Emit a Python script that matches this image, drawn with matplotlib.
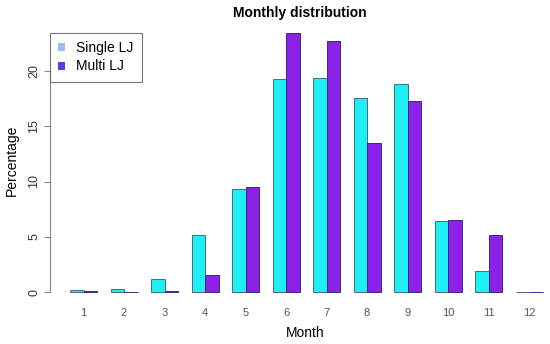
import numpy as np
import matplotlib.pyplot as plt
from matplotlib.patches import Patch

plt.rcParams['font.family'] = ['Liberation Sans', 'DejaVu Sans']

months = ["1", "2", "3", "4", "5", "6", "7", "8", "9", "10", "11", "12"]
single_lj = [0.2, 0.3, 1.2, 5.2, 9.3, 19.3, 19.4, 17.6, 18.8, 6.45, 1.9, 0.0]
multi_lj = [0.05, 0.0, 0.1, 1.5, 9.5, 23.4, 22.7, 13.5, 17.3, 6.55, 5.2, 0.0]

W, H = 550, 344
fig = plt.figure(figsize=(W / 100, H / 100), dpi=100)
# axes in pixel coords: left 50, right 550, top 20, bottom 300
ax = fig.add_axes([50 / W, 1 - 300 / H, 500 / W, 280 / H])

# R style beside barplot: each group = space 1 + 2 bars of width 1
group = np.arange(len(months))
x_single = 1.5 + 3 * group
x_multi = 2.5 + 3 * group

ax.bar(x_single, single_lj, width=1.0, color="#1EEFF5", edgecolor="#4a6a80", linewidth=0.7)
ax.bar(x_multi, multi_lj, width=1.0, color="#8C22E8", edgecolor="#3a2a80", linewidth=0.7)

# pixel mapping: unit 0 -> 56.5 px, 13.5 px per unit
ax.set_xlim((50 - 56.5) / 13.5, (550 - 56.5) / 13.5)
# y: 0 at 292 px, 11.05 px per unit
ax.set_ylim(-(300 - 292) / 11.05, (292 - 20) / 11.05)

for s in ["top", "right", "bottom"]:
    ax.spines[s].set_visible(False)
ax.spines["left"].set_bounds(0, 20)
ax.spines["left"].set_color("#888888")
ax.spines["left"].set_linewidth(0.8)

ax.set_yticks([0, 5, 10, 15, 20])
ax.set_yticklabels(["0", "5", "10", "15", "20"], rotation=90, va="center")
ax.tick_params(axis="y", length=4, color="#888888", labelsize=9, pad=3, labelcolor="#333333")

ax.set_xticks(2 + 3 * group)
ax.set_xticklabels(months)
ax.tick_params(axis="x", length=0, labelsize=8, pad=6, labelcolor="#555555")

fig.text(300 / W, 1 - 13 / H, "Monthly distribution", fontsize=10, fontweight="bold",
         ha="center", va="center")
fig.text(305 / W, 1 - 333 / H, "Month", fontsize=10, ha="center", va="center")
fig.text(12 / W, 1 - 160 / H, "Percentage", fontsize=10, ha="center", va="center",
         rotation=90)

handles = [Patch(facecolor="#A0B8F2", edgecolor="none", label="Single LJ"),
           Patch(facecolor="#5A3AE0", edgecolor="none", label="Multi LJ")]
leg = ax.legend(handles=handles, loc="upper left", bbox_to_anchor=(0.0, 1 - 13 / 280),
                fontsize=10, frameon=True, fancybox=False, handlelength=0.5,
                handleheight=0.5, handletextpad=0.8, borderpad=0.6, labelspacing=0.3,
                borderaxespad=0)
leg.get_frame().set_edgecolor("#555555")
leg.get_frame().set_linewidth(0.8)

fig.savefig("out.png", dpi=100)
